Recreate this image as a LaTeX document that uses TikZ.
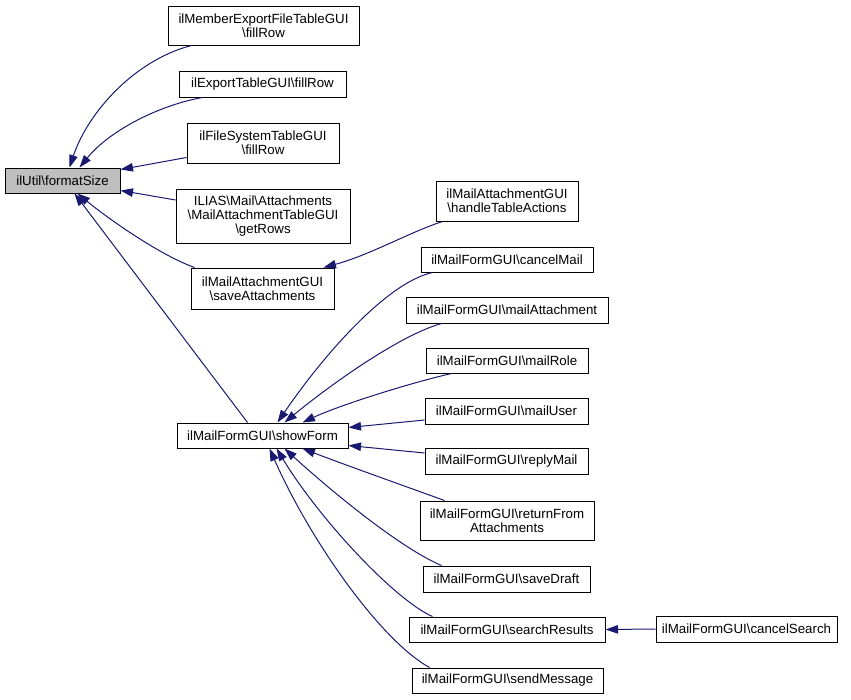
\documentclass[tikz,border=0pt]{standalone}
\usepackage{fontspec}
\setmainfont{Liberation Sans}
\usetikzlibrary{arrows.meta,calc}
\definecolor{edgeblue}{HTML}{191970}
\definecolor{hilite}{HTML}{BFBFBF}
\tikzset{
  box/.style={draw=black, line width=1pt, fill=white, inner sep=0pt, align=center,
    font=\fontsize{13.3}{14.3}\selectfont},
  arr/.style={draw=edgeblue, line width=1pt, -{Triangle[length=12.5pt,width=8.5pt]}, fill=none},
}
\newcommand{\bs}{\textbackslash}
\begin{document}
\begin{tikzpicture}[x=1pt,y=-1pt]
\useasboundingbox (0,0) rectangle (851,699);
% nodes
\node[box, fill=hilite, minimum width=115pt, minimum height=25pt] (fs) at (62.5,180.5) {ilUtil\bs formatSize};
\node[box, minimum width=191pt, minimum height=39pt] (n1) at (263.5,25.5) {ilMemberExportFileTableGUI\\\bs fillRow};
\node[box, minimum width=167pt, minimum height=26pt] (n2) at (262.5,84) {ilExportTableGUI\bs fillRow};
\node[box, minimum width=152pt, minimum height=40pt] (n3) at (263,143) {ilFileSystemTableGUI\\\bs fillRow};
\node[box, minimum width=174pt, minimum height=54pt] (n4) at (263,216) {ILIAS\bs Mail\bs Attachments\\\bs MailAttachmentTableGUI\\\bs getRows};
\node[box, minimum width=143pt, minimum height=41pt] (n5) at (262.5,288.5) {ilMailAttachmentGUI\\\bs saveAttachments};
\node[box, minimum width=171pt, minimum height=25pt] (sf) at (262.5,435.5) {ilMailFormGUI\bs showForm};
\node[box, minimum width=142pt, minimum height=40pt] (h) at (507,201) {ilMailAttachmentGUI\\\bs handleTableActions};
\node[box, minimum width=172pt, minimum height=25pt] (cm) at (507,259.5) {ilMailFormGUI\bs cancelMail};
\node[box, minimum width=202pt, minimum height=26pt] (ma) at (507,310) {ilMailFormGUI\bs mailAttachment};
\node[box, minimum width=162pt, minimum height=25pt] (mr) at (507,360.5) {ilMailFormGUI\bs mailRole};
\node[box, minimum width=163pt, minimum height=26pt] (mu) at (506.5,411) {ilMailFormGUI\bs mailUser};
\node[box, minimum width=163pt, minimum height=26pt] (rm) at (506.5,461) {ilMailFormGUI\bs replyMail};
\node[box, minimum width=174pt, minimum height=39pt] (rf) at (507,520.5) {ilMailFormGUI\bs returnFrom\\Attachments};
\node[box, minimum width=167pt, minimum height=26pt] (sd) at (506.5,579) {ilMailFormGUI\bs saveDraft};
\node[box, minimum width=196pt, minimum height=25pt] (sr) at (507,629.5) {ilMailFormGUI\bs searchResults};
\node[box, minimum width=191pt, minimum height=25pt] (sm) at (507.5,680.5) {ilMailFormGUI\bs sendMessage};
\node[box, minimum width=181pt, minimum height=26pt] (cs) at (746.5,629) {ilMailFormGUI\bs cancelSearch};
% edges to formatSize
\draw[arr] ($(n1.south west)+(24,0)$) .. controls (135,60) and (88,112) .. ($(fs.north west)+(65,0)$);
\draw[arr] ($(n2.south west)+(24,0)$) .. controls (160,105) and (110,130) .. ($(fs.north west)+(75,0)$);
\draw[arr] ($(n3.south west)+(0,-6)$) -- ($(fs.east)+(0,-11)$);
\draw[arr] ($(n4.west)+(0,-16)$) -- ($(fs.east)+(0,10)$);
\draw[arr] ($(n5.north west)+(4,0)$) .. controls (160,255) and (110,220) .. ($(fs.south west)+(73,0)$);
\draw[arr] ($(sf.north west)+(71,0)$) -- ($(fs.south west)+(70,0)$);
% to saveAttachments
\draw[arr] ($(h.south west)+(7,0)$) .. controls (410,232) and (370,255) .. ($(n5.north east)+(-11,0)$);
% to showForm
\draw[arr] ($(cm.south west)+(12,0)$) .. controls (385,283) and (320,360) .. ($(sf.north west)+(101,0)$);
\draw[arr] ($(ma.south west)+(36,0)$) .. controls (400,335) and (330,385) .. ($(sf.north west)+(108,0)$);
\draw[arr] ($(mr.south west)+(26,0)$) .. controls (410,383) and (340,405) .. ($(sf.north west)+(126,0)$);
\draw[arr] ($(mu.west)+(0,9)$) -- ($(sf.east)+(0,-8)$);
\draw[arr] ($(rm.west)+(0,-8)$) -- ($(sf.east)+(0,10)$);
\draw[arr] ($(rf.north west)+(25,0)$) .. controls (410,488) and (340,463) .. ($(sf.south west)+(126,0)$);
\draw[arr] ($(sd.north west)+(19,0)$) .. controls (400,548) and (330,490) .. ($(sf.south west)+(108,0)$);
\draw[arr] ($(sr.north west)+(24,0)$) .. controls (395,600) and (320,520) .. ($(sf.south west)+(100,0)$);
\draw[arr] ($(sm.north west)+(18,0)$) .. controls (380,640) and (310,540) .. ($(sf.south west)+(93,0)$);
% to searchResults
\draw[arr] (cs.west) -- (sr.east);
\end{tikzpicture}
\end{document}
